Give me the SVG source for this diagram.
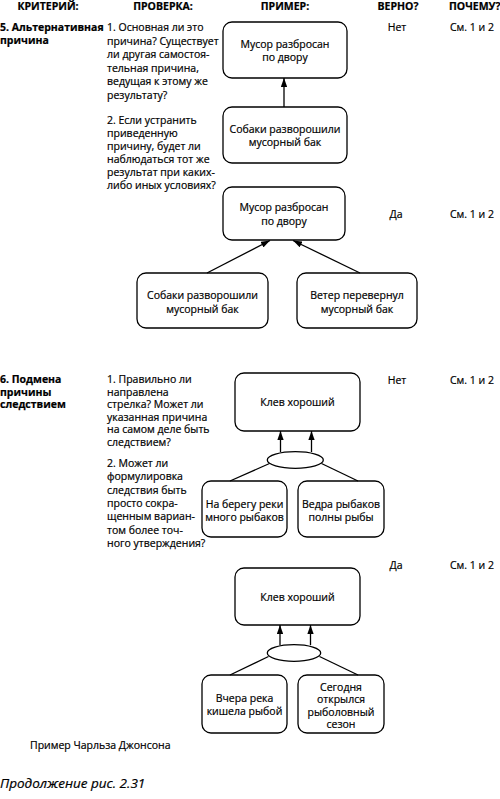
<svg xmlns="http://www.w3.org/2000/svg" width="500" height="799" viewBox="0 0 500 799">
<defs>
<style>
text{font-family:"Open Sans","Noto Sans","Liberation Sans",sans-serif;font-size:10.5px;fill:#000;stroke:#000;stroke-width:0.2}
.h{font-weight:bold;font-size:10.5px}
.b{font-weight:bold}
.m{text-anchor:middle}
.box{fill:#fff;stroke:#000;stroke-width:1.3}
.ln{fill:none;stroke:#000;stroke-width:1.3}
.ar{fill:none;stroke:#000;stroke-width:1.3;marker-end:url(#ah)}
.it{font-style:italic;font-size:13.5px}
</style>
<marker id="ah" viewBox="0 0 10 7" refX="10" refY="3.5" markerWidth="9" markerHeight="6.3" markerUnits="userSpaceOnUse" orient="auto">
<path d="M0,0 L10,3.5 L0,7 z" fill="#000"/>
</marker>
</defs>
<rect width="500" height="799" fill="#fff"/>

<g id="headers">
<text class="h m" x="48" y="10">КРИТЕРИЙ:</text>
<text class="h m" x="163" y="10">ПРОВЕРКА:</text>
<text class="h m" x="285" y="10">ПРИМЕР:</text>
<text class="h m" x="398" y="10">ВЕРНО?</text>
<text class="h" x="449" y="10">ПОЧЕМУ?</text>
</g>

<g id="row5-text">
<text class="b" x="0" y="31">5. Альтернативная</text>
<text class="b" x="0" y="44">причина</text>
<text x="107" y="31">1. Основная ли это</text>
<text x="107" y="44.5">причина? Существует</text>
<text x="107" y="58">ли другая самостоя-</text>
<text x="107" y="71.5">тельная причина,</text>
<text x="107" y="85">ведущая к этому же</text>
<text x="107" y="98.5">результату?</text>
<text x="107" y="124">2. Если устранить</text>
<text x="107" y="137">приведенную</text>
<text x="107" y="150">причину, будет ли</text>
<text x="107" y="163">наблюдаться тот же</text>
<text x="107" y="176">результат при каких-</text>
<text x="107" y="189">либо иных условиях?</text>
<text class="m" x="397" y="31">Нет</text>
<text x="450" y="31">См. 1 и 2</text>
<text class="m" x="396" y="218">Да</text>
<text x="450" y="218">См. 1 и 2</text>
</g>

<g id="n5a"><rect class="box" x="223" y="22" width="124" height="56" rx="9"/>
<text class="m" x="285" y="47.5">Мусор разбросан</text><text class="m" x="285" y="61">по двору</text></g>
<g id="n5b"><rect class="box" x="223" y="107" width="124" height="56" rx="9"/>
<text class="m" x="285" y="132.5">Собаки разворошили</text><text class="m" x="285" y="146">мусорный бак</text></g>
<g id="n5c"><rect class="box" x="223" y="187" width="122" height="53" rx="9"/>
<text class="m" x="284" y="211">Мусор разбросан</text><text class="m" x="284" y="224.5">по двору</text></g>
<g id="n5d"><rect class="box" x="137" y="273" width="131" height="55" rx="9"/>
<text class="m" x="202.5" y="299">Собаки разворошили</text><text class="m" x="202.5" y="312.5">мусорный бак</text></g>
<g id="n5e"><rect class="box" x="297" y="273" width="120" height="55" rx="9"/>
<text class="m" x="357" y="299">Ветер перевернул</text><text class="m" x="357" y="312.5">мусорный бак</text></g>

<g id="row6-text">
<text class="b" x="0" y="383">6. Подмена</text>
<text class="b" x="0" y="395.5">причины</text>
<text class="b" x="0" y="408">следствием</text>
<text x="107" y="383">1. Правильно ли</text>
<text x="107" y="395.6">направлена</text>
<text x="107" y="408.2">стрелка? Может ли</text>
<text x="107" y="420.8">указанная причина</text>
<text x="107" y="433.4">на самом деле быть</text>
<text x="107" y="446">следствием?</text>
<text x="107" y="467">2. Может ли</text>
<text x="107" y="480.3">формулировка</text>
<text x="107" y="493.6">следствия быть</text>
<text x="107" y="506.9">просто сокра-</text>
<text x="107" y="520.2">щенным вариан-</text>
<text x="107" y="533.5">том более точ-</text>
<text x="107" y="546.8">ного утверждения?</text>
<text class="m" x="397" y="384">Нет</text>
<text x="450" y="384">См. 1 и 2</text>
<text class="m" x="396" y="569">Да</text>
<text x="450" y="569">См. 1 и 2</text>
</g>

<g id="n6a"><rect class="box" x="235" y="373" width="125" height="58" rx="9"/>
<text class="m" x="297.5" y="406">Клев хороший</text></g>
<g id="n6and"><ellipse class="box" cx="295.3" cy="460" rx="28" ry="8.3"/></g>
<g id="n6b"><rect class="box" x="202" y="481" width="85" height="56" rx="9"/>
<text class="m" x="244.5" y="508">На берегу реки</text><text class="m" x="244.5" y="521">много рыбаков</text></g>
<g id="n6c"><rect class="box" x="298" y="481" width="86" height="56" rx="9"/>
<text class="m" x="341" y="508">Ведра рыбаков</text><text class="m" x="341" y="521">полны рыбы</text></g>

<g id="n6d"><rect class="box" x="235" y="568" width="125" height="57" rx="9"/>
<text class="m" x="297.5" y="600.5">Клев хороший</text></g>
<g id="n6and2"><ellipse class="box" cx="294" cy="653" rx="26.7" ry="8.3"/></g>
<g id="n6e"><rect class="box" x="202" y="675" width="85" height="58" rx="9"/>
<text class="m" x="244.5" y="702">Вчера река</text><text class="m" x="244.5" y="715">кишела рыбой</text></g>
<g id="n6f"><rect class="box" x="298" y="675" width="86" height="58" rx="9"/>
<text class="m" x="341" y="690.5">Сегодня</text><text class="m" x="341" y="703">открылся</text><text class="m" x="341" y="715.5">рыболовный</text><text class="m" x="341" y="728">сезон</text></g>

<g id="connectors">
<line class="ar" x1="284" y1="107" x2="284" y2="78"/>
<line class="ar" x1="207" y1="273" x2="270" y2="240.5"/>
<line class="ar" x1="360" y1="273" x2="293" y2="240.5"/>
<line class="ar" x1="280.5" y1="452" x2="280.5" y2="431"/>
<line class="ar" x1="311.5" y1="452" x2="311.5" y2="431"/>
<line class="ln" x1="269.5" y1="463.5" x2="230" y2="481"/>
<line class="ln" x1="321.5" y1="463.5" x2="358" y2="481"/>
<line class="ar" x1="280" y1="645.2" x2="280" y2="625"/>
<line class="ar" x1="310.5" y1="645.2" x2="310.5" y2="625"/>
<line class="ln" x1="268.5" y1="656.5" x2="230" y2="675"/>
<line class="ln" x1="319.5" y1="656.5" x2="358" y2="675"/>
</g>

<g id="footer">
<text x="30" y="749">Пример Чарльза Джонсона</text>
<text class="it" x="0" y="788">Продолжение рис. 2.31</text>
</g>
</svg>
